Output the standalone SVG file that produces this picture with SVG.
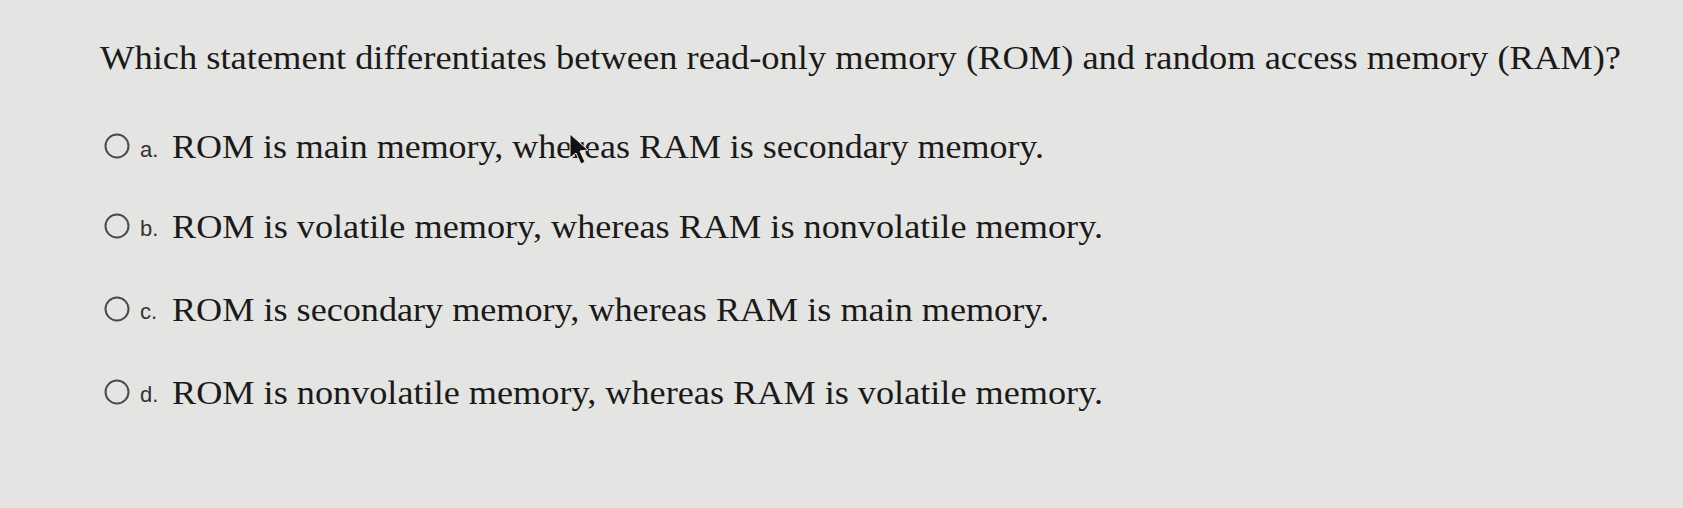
<svg xmlns="http://www.w3.org/2000/svg" width="1683" height="508" viewBox="0 0 1683 508">
<style>
.t{font-family:"Liberation Serif",serif;font-size:33px;fill:#1a1a1a}
.l{font-family:"Liberation Sans",sans-serif;font-size:22px;fill:#333}
.r{fill:none;stroke:#4a4a4a;stroke-width:2}
</style>
<rect width="1683" height="508" fill="#e4e4e2"/>
<text class="t" x="100" y="69" textLength="1521" lengthAdjust="spacingAndGlyphs">Which statement differentiates between read-only memory (ROM) and random access memory (RAM)?</text>
<g id="optA"><circle class="r" cx="117" cy="146" r="11.5"/><text class="l" x="140" y="157">a.</text><text class="t" x="172" y="158" textLength="872" lengthAdjust="spacingAndGlyphs">ROM is main memory, whereas RAM is secondary memory.</text></g>
<g id="optB"><circle class="r" cx="117" cy="226" r="11.5"/><text class="l" x="140" y="236">b.</text><text class="t" x="172" y="238" textLength="931" lengthAdjust="spacingAndGlyphs">ROM is volatile memory, whereas RAM is nonvolatile memory.</text></g>
<g id="optC"><circle class="r" cx="117" cy="309" r="11.5"/><text class="l" x="140" y="319">c.</text><text class="t" x="172" y="321" textLength="877" lengthAdjust="spacingAndGlyphs">ROM is secondary memory, whereas RAM is main memory.</text></g>
<g id="optD"><circle class="r" cx="117" cy="392" r="11.5"/><text class="l" x="140" y="402">d.</text><text class="t" x="172" y="404" textLength="931" lengthAdjust="spacingAndGlyphs">ROM is nonvolatile memory, whereas RAM is volatile memory.</text></g>
<polygon points="570,134 570,158 576,153 581,164 585,162 580,151 588,150" fill="#111" stroke="#eee" stroke-width="1"/>
</svg>
